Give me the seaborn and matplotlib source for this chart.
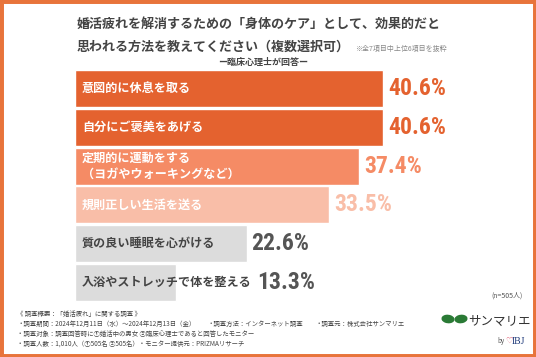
import matplotlib
matplotlib.use('Agg')
import matplotlib.pyplot as plt
from matplotlib import font_manager
from matplotlib.patches import Rectangle, Ellipse
import seaborn as sns
import pandas as pd

labels = ['意図的に休息を取る', '自分にご褒美をあげる', '定期的に運動をする\n（ヨガやウォーキングなど）',
          '規則正しい生活を送る', '質の良い睡眠を心がける', '入浴やストレッチで体を整える']
values = [40.6, 40.6, 37.4, 33.5, 22.6, 13.3]
bar_colors = ['#E4622F', '#E4622F', '#F58B65', '#F9BEA8', '#DCDCDC', '#DCDCDC']
text_colors = ['white', 'white', 'white', 'white', '#444444', '#444444']
value_colors = ['#E4622F', '#E4622F', '#F58B65', '#F9BEA8', '#555555', '#555555']

jp = ['Noto Sans CJK JP', 'DejaVu Sans']
installed = {f.name for f in font_manager.fontManager.ttflist}
num_font = next((n for n in ['Liberation Sans Narrow', 'DejaVu Sans Condensed', 'Roboto Condensed',
                             'Open Sans Condensed', 'Roboto', 'Liberation Sans'] if n in installed), 'DejaVu Sans')
num = [num_font, 'DejaVu Sans']

sns.set_style('white')
plt.rcParams['font.family'] = jp

W, H = 536, 357
fig = plt.figure(figsize=(W / 100, H / 100), dpi=100)
ax = fig.add_axes([75 / W, 1 - 302 / H, (508 - 75) / W, 233 / H])

df = pd.DataFrame({'label': labels, 'value': values})
sns.barplot(data=df, x='value', y='label', hue='label', palette=bar_colors,
            orient='h', width=0.95, legend=False, saturation=1, ax=ax)
ax.set_xlim(0, 433 / 7.59)
ax.set_ylim(5.5, -0.5)
ax.axis('off')

renderer = fig.canvas.get_renderer()
for i, (lab, v) in enumerate(zip(labels, values)):
    t = ax.annotate(lab, xy=(0, i), xytext=(7, 0), textcoords='offset pixels',
                    ha='left', va='center', fontsize=8.7, fontweight='bold',
                    color=text_colors[i], linespacing=1.3)
    # value goes after the bar, or after the label if the label runs past the bar
    text_end = t.get_window_extent(renderer).x1
    bar_end = ax.transData.transform((v, i))[0]
    start = max(text_end, bar_end)
    x_data = ax.transData.inverted().transform((start, 0))[0]
    ax.annotate(f'{v}%', xy=(x_data, i), xytext=(5, 0), textcoords='offset pixels',
                ha='left', va='center', fontsize=17, fontweight='bold',
                color=value_colors[i], family=num)

def ftext(x, y, s, **kw):
    fig.text(x / W, 1 - y / H, s, **kw)

ftext(77, 24, '婚活疲れを解消するための「身体のケア」として、効果的だと',
      fontsize=9.4, fontweight='bold', color='#444444', va='center')
ftext(77, 47, '思われる方法を教えてください（複数選択可）',
      fontsize=9.4, fontweight='bold', color='#444444', va='center')
ftext(355, 49, '※全7項目中上位6項目を抜粋', fontsize=5, color='#888888', va='center')
ftext(263, 62, 'ー臨床心理士が回答ー', fontsize=6.5, fontweight='bold',
      color='#444444', va='center', ha='center')

ftext(523, 296, '(n=505人)', fontsize=5, color='#555555', va='center', ha='right')

foot = ['《 調査概要：「婚活疲れ」に関する調査 》',
        '・調査期間：2024年12月11日（水）～2024年12月13日（金）',
        '・調査対象：調査回答時に①婚活中の男女 ②臨床心理士であると回答したモニター',
        '・調査人数：1,010人（①505名 ②505名）・モニター提供元：PRIZMAリサーチ']
for s, y in zip(foot, [314, 324, 334, 345]):
    ftext(17, y, s, fontsize=4.6, color='#444444', va='center')
ftext(207, 324, '・調査方法：インターネット調査', fontsize=4.6, color='#444444', va='center')
ftext(315, 324, '・調査元：株式会社サンマリエ', fontsize=4.6, color='#444444', va='center')

# logo
for cx, cy, ang in [(448, 319, -30), (461, 319, 30)]:
    fig.patches.append(Ellipse((cx / W, 1 - cy / H), 12 / W, 7 / H, angle=ang,
                               transform=fig.transFigure, color='#2A7A35'))
ftext(468, 321, 'サンマリエ', fontsize=9, color='#333333', va='center')
ftext(497, 341, 'by', fontsize=4.5, color='#555555', va='center')
ftext(505, 341, '♡', fontsize=6, color='#E0506A', va='center', family=['DejaVu Sans'])
ftext(512, 341, 'IBJ', fontsize=7, color='#1F3A7A', va='center', family=['Liberation Serif', 'DejaVu Serif'])

fig.patches.append(Rectangle((0, 0), 1, 1, transform=fig.transFigure, fill=False,
                             lw=5, edgecolor='#E8743B'))

fig.savefig('out.png', dpi=100)
